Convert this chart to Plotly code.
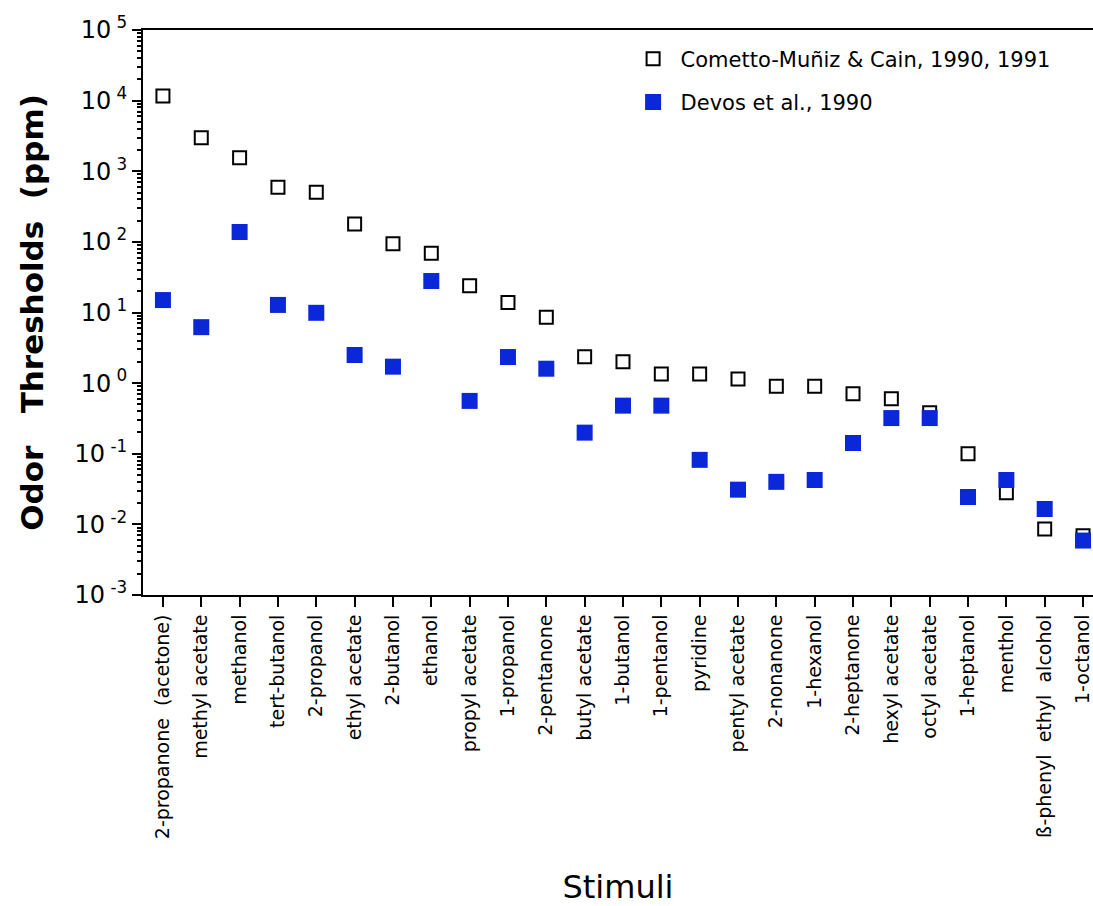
import plotly.graph_objects as go

categories = [
    "2-propanone\u00a0\u00a0(acetone)", "methyl acetate", "methanol", "tert-butanol",
    "2-propanol", "ethyl acetate", "2-butanol", "ethanol", "propyl acetate",
    "1-propanol", "2-pentanone", "butyl acetate", "1-butanol", "1-pentanol",
    "pyridine", "pentyl acetate", "2-nonanone", "1-hexanol", "2-heptanone",
    "hexyl acetate", "octyl acetate", "1-heptanol", "menthol",
    "ß-phenyl\u00a0\u00a0ethyl\u00a0\u00a0alcohol", "1-octanol",
]

cometto_muniz = [11600, 2990, 1550, 593, 504, 179, 94, 69, 24, 13.8, 8.6, 2.37, 2.01,
                 1.35, 1.35, 1.14, 0.90, 0.90, 0.71, 0.60, 0.38, 0.10, 0.028, 0.0086, 0.0069]
devos = [15.0, 6.2, 138, 12.8, 9.9, 2.5, 1.71, 27.9, 0.56, 2.34, 1.60, 0.199, 0.48,
         0.48, 0.082, 0.031, 0.040, 0.0425, 0.142, 0.32, 0.32, 0.0244, 0.0425, 0.0165, 0.0059]

ytick_vals = [1e-3, 1e-2, 1e-1, 1e0, 1e1, 1e2, 1e3, 1e4, 1e5]
ytick_text = ["10<sup> -3</sup>", "10<sup> -2</sup>", "10<sup> -1</sup>", "10<sup> 0</sup>",
              "10<sup> 1</sup>", "10<sup> 2</sup>", "10<sup> 3</sup>", "10<sup> 4</sup>",
              "10<sup> 5</sup>"]
minor_vals = [m * d for d in [1e-3, 1e-2, 1e-1, 1e0, 1e1, 1e2, 1e3, 1e4] for m in range(2, 10)]

FONT = "DejaVu Sans"
BLUE = "#0A28D8"

fig = go.Figure()
fig.add_trace(go.Scatter(
    x=categories, y=cometto_muniz, mode="markers",
    name="Cometto-Muñiz & Cain, 1990, 1991", legendgroup="a",
    marker=dict(symbol="square-open", size=13, color="black", line=dict(width=2, color="black")),
))
fig.add_trace(go.Scatter(
    x=categories, y=devos, mode="markers",
    name="Devos et al., 1990", legendgroup="b",
    marker=dict(symbol="square", size=16, color=BLUE, line=dict(width=0)),
))

fig.update_layout(
    width=1093, height=906,
    margin=dict(l=143, r=0, t=30, b=311),
    paper_bgcolor="white", plot_bgcolor="white",
    font=dict(family=FONT, color="black"),
    showlegend=True,
    legend=dict(
        x=0.508, y=0.985, xanchor="left", yanchor="top",
        font=dict(family=FONT, size=21, color="black"),
        bgcolor="rgba(0,0,0,0)", borderwidth=0,
        traceorder="grouped", tracegroupgap=13, itemwidth=45,
    ),
    xaxis=dict(
        type="category", range=[-0.52, 24.26],
        showline=True, linewidth=2, linecolor="black", mirror=True,
        ticks="outside", ticklen=10, tickwidth=2, tickcolor="black",
        tickangle=-90, tickfont=dict(family=FONT, size=19, color="black"),
        showgrid=False, zeroline=False,
        title=dict(text="Stimuli", font=dict(family=FONT, size=32, color="black"), standoff=40),
    ),
    yaxis=dict(
        type="log", range=[-3, 5],
        showline=True, linewidth=2, linecolor="black",
        ticks="outside", ticklen=9, tickwidth=2, tickcolor="black",
        tickvals=ytick_vals, ticktext=ytick_text,
        tickfont=dict(family=FONT, size=24, color="black"),
        minor=dict(ticks="outside", ticklen=4, tickwidth=1.5, tickcolor="black",
                   tickvals=minor_vals, showgrid=False),
        showgrid=False, zeroline=False,
        title=dict(text="Odor\u00a0\u00a0\u00a0Thresholds\u00a0\u00a0(ppm)",
                   font=dict(family=FONT, size=31, color="black", weight="bold"), standoff=22),
    ),
)

fig.write_html("out.html")
